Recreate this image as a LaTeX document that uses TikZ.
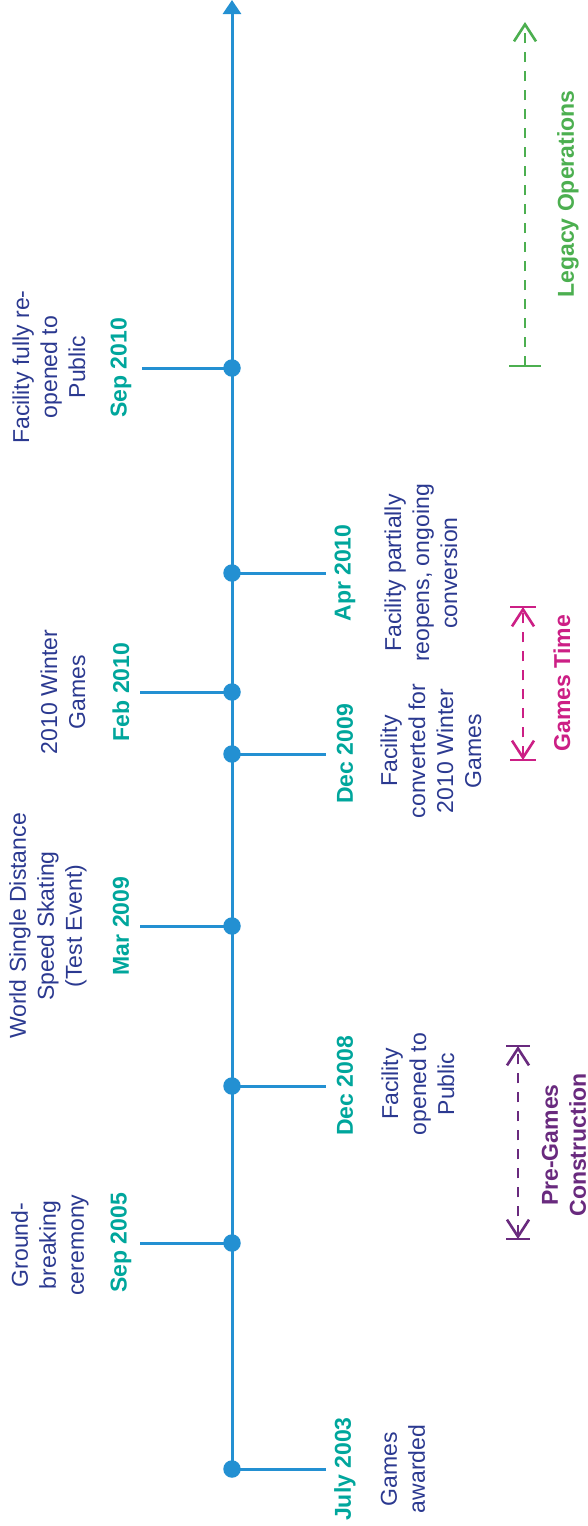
\documentclass[tikz,border=0pt]{standalone}
\usepackage{fontspec}
\setmainfont{Liberation Sans}
\usetikzlibrary{arrows.meta}
\definecolor{axisblue}{RGB}{35,144,210}
\definecolor{dateteal}{RGB}{0,166,156}
\definecolor{evnavy}{RGB}{43,57,144}
\definecolor{legacygreen}{RGB}{76,175,80}
\definecolor{gamesmag}{RGB}{204,31,133}
\definecolor{prepurple}{RGB}{105,42,126}
\begin{document}
\begin{tikzpicture}[x=1pt,y=-1pt,
  axisline/.style={draw=axisblue, line width=3pt},
  tickline/.style={draw=axisblue, line width=3pt},
  dot/.style={circle, fill=axisblue, minimum size=17.5pt, inner sep=0pt},
  datelbl/.style={rotate=90, text=dateteal, font=\fontsize{23}{28}\selectfont\bfseries, inner sep=0pt},
  evtext/.style={rotate=90, text=evnavy, font=\fontsize{23}{28}\selectfont, align=center, inner sep=0pt},
  phasearrow/.style={draw=#1, line width=2.6pt, dash pattern=on 10pt off 9pt},
  phasebar/.style={draw=#1, line width=2pt},
  phaselbl/.style={rotate=90, text=#1, font=\fontsize{23}{28}\selectfont\bfseries, align=center, inner sep=0pt},
  barb/.tip={Straight Barb[length=17pt,width=22pt,line width=2.6pt]}
]
\useasboundingbox (0,0) rectangle (588,1526);

% axis
\coordinate (p1) at (232,1469);
\coordinate (top) at (232,0);
\draw[axisline, -{Triangle[length=14pt,width=18pt]}] (p1) -- (top);

% event points and tick ends
\coordinate (e1) at (326,1469);  % July 2003
\coordinate (p2) at (232,1243); \coordinate (e2) at (140,1243); % Sep 2005
\coordinate (p3) at (232,1086); \coordinate (e3) at (326,1086); % Dec 2008
\coordinate (p4) at (232,926);  \coordinate (e4) at (140,926);  % Mar 2009
\coordinate (p5) at (232,754);  \coordinate (e5) at (326,754);  % Dec 2009
\coordinate (p6) at (232,692);  \coordinate (e6) at (140,692);  % Feb 2010
\coordinate (p7) at (232,573);  \coordinate (e7) at (326,573);  % Apr 2010
\coordinate (p8) at (232,368);  \coordinate (e8) at (142,368);  % Sep 2010

\foreach \i in {1,...,8} {\draw[tickline] (p\i) -- (e\i);}
\foreach \i in {1,...,8} {\node[dot] (d\i) at (p\i) {};}

% dates
\node[datelbl] (t1) at (345,1469) {July 2003};
\node[datelbl] (t2) at (121,1243) {Sep 2005};
\node[datelbl] (t3) at (345,1086) {Dec 2008};
\node[datelbl] (t4) at (121,926) {Mar 2009};
\node[datelbl] (t5) at (345,754) {Dec 2009};
\node[datelbl] (t6) at (121,692) {Feb 2010};
\node[datelbl] (t7) at (345,573) {Apr 2010};
\node[datelbl] (t8) at (121,368) {Sep 2010};

% event texts
\node[evtext] (x1) at (403,1469) {Games\\awarded};
\node[evtext] (x2) at (50,1245) {Ground-\\breaking\\ceremony};
\node[evtext] (x3) at (418,1084) {Facility\\opened to\\Public};
\node[evtext] (x4) at (48,926) {World Single Distance\\Speed Skating\\(Test Event)};
\node[evtext] (x5) at (431,751) {Facility\\converted for\\2010 Winter\\Games};
\node[evtext] (x6) at (63,692) {2010 Winter\\Games};
\node[evtext] (x7) at (421,573) {Facility partially\\reopens, ongoing\\conversion};
\node[evtext] (x8) at (49,367) {Facility fully re-\\opened to\\Public};

% phases
\coordinate (legB) at (525,366); \coordinate (legT) at (525,22);
\draw[phasearrow=legacygreen, -{barb}] (legB) -- (legT);
\draw[phasebar=legacygreen] (legB) ++(-16,0) -- ++(32,0);
\node[phaselbl=legacygreen] (legL) at (568,194) {Legacy Operations};

\coordinate (gtB) at (523,760); \coordinate (gtT) at (523,607);
\draw[phasearrow=gamesmag, {barb}-{barb}] (gtB) -- (gtT);
\draw[phasebar=gamesmag] (gtB) ++(-13,0) -- ++(26,0);
\draw[phasebar=gamesmag] (gtT) ++(-13,0) -- ++(26,0);
\node[phaselbl=gamesmag] (gtL) at (562,683) {Games Time};

\coordinate (pgB) at (518,1239); \coordinate (pgT) at (518,1046);
\draw[phasearrow=prepurple, {barb}-{barb}] (pgB) -- (pgT);
\draw[phasebar=prepurple] (pgB) ++(-12,0) -- ++(24,0);
\draw[phasebar=prepurple] (pgT) ++(-12,0) -- ++(24,0);
\node[phaselbl=prepurple] (pgL) at (564,1145) {Pre-Games\\Construction};
\end{tikzpicture}
\end{document}
